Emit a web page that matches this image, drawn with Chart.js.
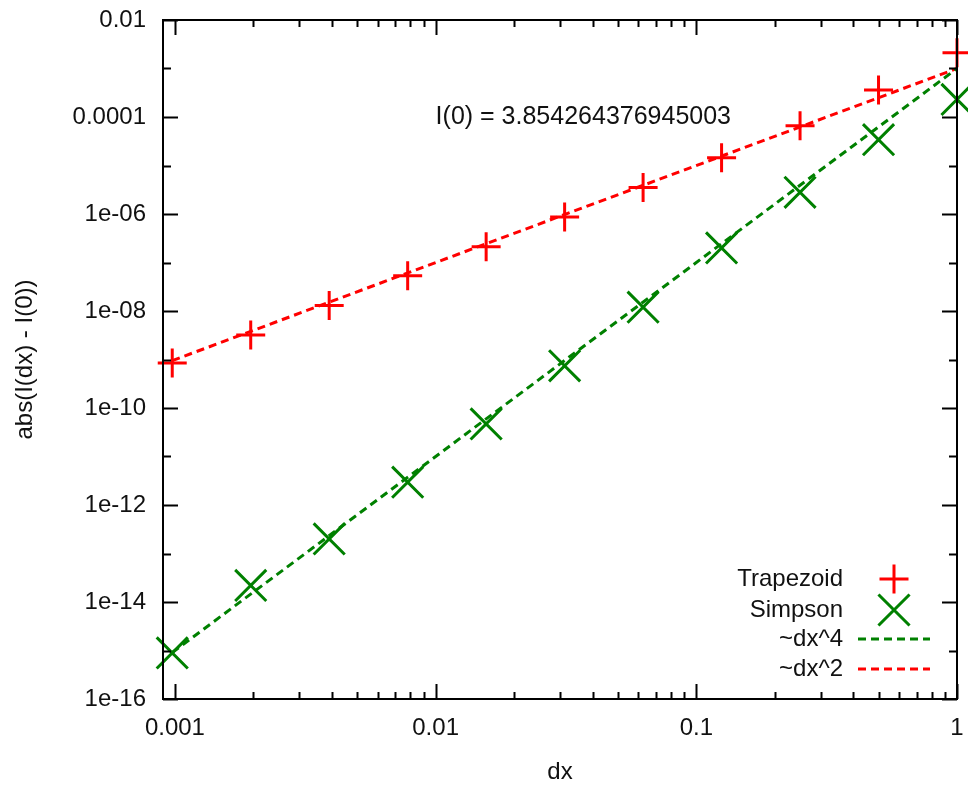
<!DOCTYPE html>
<html>
<head>
<meta charset="utf-8">
<script src="https://cdn.jsdelivr.net/npm/chart.js@4"></script>
<style>
  html, body { margin: 0; padding: 0; background: #fff; }
  #wrap { width: 968px; height: 787px; }
</style>
</head>
<body>
<div id="wrap"><canvas id="err-chart"></canvas></div>
<script>
// step sizes dx = 2^-k
const dxValues = [1, 0.5, 0.25, 0.125, 0.0625, 0.03125, 0.015625, 0.0078125, 0.00390625, 0.001953125, 0.0009765625];
// abs(I(dx) - I(0))
const trapezoidErr = [2.1e-3, 3.6e-4, 6.6e-5, 1.45e-5, 3.5e-6, 8.7e-7, 2.1e-7, 5.3e-8, 1.3e-8, 3.2e-9, 8.5e-10];
const simpsonErr = [2.3e-4, 3.4e-5, 2.8e-6, 2e-7, 1.2e-8, 7.4e-10, 4.7e-11, 2.95e-12, 2e-13, 2.2e-14, 8.9e-16];
// reference slopes, end points
const slopeX = [0.0009765625, 1];
const slopeDx4 = [9.1e-16, 1e-3];
const slopeDx2 = [9.5e-10, 1e-3];

const xTickValues = [0.001, 0.01, 0.1, 1];
const xTickLabels = ['0.001', '0.01', '0.1', '1'];
const yTickValues = [1e-16, 1e-14, 1e-12, 1e-10, 1e-8, 1e-6, 1e-4, 1e-2];
const yTickLabels = ['1e-16', '1e-14', '1e-12', '1e-10', '1e-08', '1e-06', '0.0001', '0.01'];

const noteText = 'I(0) = 3.854264376945003';
const noteAt = { x: 0.01, y: 1e-4 };

const RED = '#ff0000';
const GREEN = '#008000';
const FONT = '"Liberation Sans", Arial, sans-serif';

function pts(xs, ys) {
  return xs.map((x, i) => ({ x: x, y: ys[i] }));
}

function noScalePadding(s) {
  s.paddingLeft = 0;
  s.paddingRight = 0;
  s.paddingTop = 0;
  s.paddingBottom = 0;
}

// gnuplot style frame with inward ticks on all four sides
const framePlugin = {
  id: 'frame',
  afterDraw(chart) {
    const { ctx, chartArea: a, scales: { x, y } } = chart;
    ctx.save();
    ctx.strokeStyle = '#000';
    ctx.lineWidth = 2;
    ctx.beginPath();
    for (let e = -3; e <= 0; e++) {
      for (let m = 1; m <= 9; m++) {
        const v = m * Math.pow(10, e);
        if (v < x.min || v > x.max) continue;
        const px = Math.round(x.getPixelForValue(v)) + 0.5;
        const len = m === 1 ? 15 : 7;
        ctx.moveTo(px, a.bottom); ctx.lineTo(px, a.bottom - len);
        ctx.moveTo(px, a.top); ctx.lineTo(px, a.top + len);
      }
    }
    for (let e = -16; e <= -2; e++) {
      const py = Math.round(y.getPixelForValue(Math.pow(10, e))) + 0.5;
      const len = e % 2 === 0 ? 15 : 8;
      ctx.moveTo(a.left, py); ctx.lineTo(a.left + len, py);
      ctx.moveTo(a.right, py); ctx.lineTo(a.right - len, py);
    }
    ctx.stroke();
    ctx.strokeRect(a.left, a.top, a.right - a.left, a.bottom - a.top);

    // annotation
    ctx.fillStyle = '#111';
    ctx.font = '25px ' + FONT;
    ctx.textAlign = 'left';
    ctx.textBaseline = 'middle';
    ctx.fillText(noteText, x.getPixelForValue(noteAt.x), y.getPixelForValue(noteAt.y));

    // key, bottom right, text left of sample
    ctx.font = '24px ' + FONT;
    const rowY = [a.bottom - 120, a.bottom - 89, a.bottom - 60, a.bottom - 30];
    chart.data.datasets.forEach((ds, i) => {
      const ty = rowY[i];
      ctx.fillStyle = '#111';
      ctx.textAlign = 'right';
      ctx.fillText(ds.label, a.right - 114, ty);
      if (ds.showLine) {
        ctx.strokeStyle = ds.borderColor;
        ctx.lineWidth = 3;
        ctx.setLineDash(ds.borderDash);
        ctx.beginPath();
        ctx.moveTo(a.right - 99, ty);
        ctx.lineTo(a.right - 27, ty);
        ctx.stroke();
        ctx.setLineDash([]);
      } else {
        ctx.strokeStyle = ds.borderColor;
        ctx.lineWidth = ds.pointBorderWidth;
        Chart.helpers.drawPoint(ctx, {
          pointStyle: ds.pointStyle,
          radius: ds.pointRadius,
          rotation: 0,
          borderWidth: ds.pointBorderWidth
        }, a.right - 63, ty);
      }
    });
    ctx.restore();
  }
};

new Chart(document.getElementById('err-chart'), {
  type: 'scatter',
  data: {
    datasets: [
      {
        label: 'Trapezoid',
        data: pts(dxValues, trapezoidErr),
        showLine: false,
        pointStyle: 'cross',
        pointRadius: 14.5,
        pointBorderWidth: 3,
        borderColor: RED,
        backgroundColor: RED,
        clip: false
      },
      {
        label: 'Simpson',
        data: pts(dxValues, simpsonErr),
        showLine: false,
        pointStyle: 'crossRot',
        pointRadius: 22,
        pointBorderWidth: 3,
        borderColor: GREEN,
        backgroundColor: GREEN,
        clip: false
      },
      {
        label: '~dx^4',
        data: pts(slopeX, slopeDx4),
        showLine: true,
        pointRadius: 0,
        borderWidth: 3,
        borderDash: [8, 5],
        borderColor: GREEN
      },
      {
        label: '~dx^2',
        data: pts(slopeX, slopeDx2),
        showLine: true,
        pointRadius: 0,
        borderWidth: 3,
        borderDash: [8, 5],
        borderColor: RED
      }
    ]
  },
  options: {
    responsive: true,
    maintainAspectRatio: false,
    animation: false,
    layout: { autoPadding: false, padding: { top: 20, right: 11, left: 0, bottom: 0 } },
    plugins: {
      legend: { display: false },
      tooltip: { enabled: false }
    },
    scales: {
      x: {
        type: 'logarithmic',
        min: 0.0009,
        max: 1,
        grid: { display: false, drawTicks: false },
        border: { display: false },
        afterBuildTicks: s => { s.ticks = xTickValues.map(v => ({ value: v })); },
        afterFit: s => { s.height = 88; noScalePadding(s); },
        ticks: {
          padding: 15,
          autoSkip: false,
          maxRotation: 0,
          color: '#111',
          font: { family: FONT, size: 24 },
          callback: (v, i) => xTickLabels[i]
        },
        title: {
          display: true,
          text: 'dx',
          color: '#111',
          padding: { top: 0, bottom: 0 },
          font: { family: FONT, size: 24 }
        }
      },
      y: {
        type: 'logarithmic',
        min: 1e-16,
        max: 1e-2,
        grid: { display: false, drawTicks: false },
        border: { display: false },
        afterBuildTicks: s => { s.ticks = yTickValues.map(v => ({ value: v })); },
        afterFit: s => { s.width = 163; noScalePadding(s); },
        ticks: {
          padding: 17,
          autoSkip: false,
          color: '#111',
          font: { family: FONT, size: 24 },
          callback: (v, i) => yTickLabels[i]
        },
        title: {
          display: true,
          text: 'abs(I(dx) - I(0))',
          color: '#111',
          padding: { top: 11, bottom: 0 },
          font: { family: FONT, size: 24 }
        }
      }
    }
  },
  plugins: [framePlugin]
});
</script>
</body>
</html>
